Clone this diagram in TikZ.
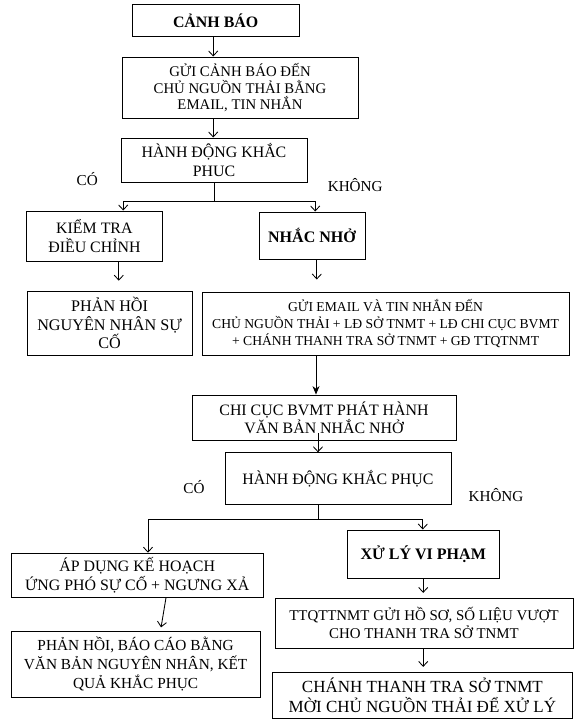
\documentclass[tikz,border=0pt]{standalone}
\usepackage{fontspec}
\setmainfont{Liberation Serif}
\usetikzlibrary{arrows.meta,positioning}
\newcommand{\fsz}[2]{\fontsize{#1}{#2}\selectfont}

\begin{document}
\begin{tikzpicture}[
  font=\fsz{11.3}{13},
  every node/.style={align=center},
  box/.style={draw, line width=0.7pt, inner sep=2pt},
  bbox/.style={box, font=\fsz{11.3}{13}\bfseries},
  lbl/.style={inner sep=0pt, font=\fsz{10.8}{12}},
  arr/.style={-{Straight Barb[length=3.5pt,width=6.5pt]}, line width=0.6pt},
  farr/.style={-{Stealth[length=6pt,width=5pt]}, line width=0.6pt}
]
\useasboundingbox (0,0) rectangle (14.375,-17.975);

%% First round
\node[bbox, minimum width=4.18cm, minimum height=0.78cm] (canh) at (5.39,-0.51) {CẢNH BÁO};
\node[box, font=\fsz{10.5}{12}, minimum width=5.9cm, minimum height=1.53cm] (gui) at (6.0,-2.19)
      {GỬI CẢNH BÁO ĐẾN\\ CHỦ NGUỒN THẢI BẰNG\\ EMAIL, TIN NHẮN};
\node[box, minimum width=4.65cm, minimum height=1.1cm] (hd1) at (5.35,-4.0) {HÀNH ĐỘNG KHẮC\\ PHUC};
\node[lbl] (co1)    at (2.18,-4.48) {CÓ};
\node[lbl] (khong1) at (8.88,-4.63) {KHÔNG};

%% Branches
\node[box, minimum width=3.38cm, minimum height=1.25cm] (kiem) at (2.36,-5.9) {KIỂM TRA\\ ĐIỀU CHỈNH};
\node[bbox, font=\fsz{11.4}{13}\bfseries, minimum width=2.65cm, minimum height=1.18cm] (nhac) at (7.8,-5.89) {NHẮC NHỞ};
\node[box, font=\fsz{11.5}{13.2}, minimum width=4.13cm, minimum height=1.6cm] (phan1) at (2.74,-8.08)
      {PHẢN HỒI\\ NGUYÊN NHÂN SỰ\\ CỐ};
\node[box, font=\fsz{9.7}{11.9}, minimum width=9.18cm, minimum height=1.58cm] (email) at (9.64,-8.09)
      {GỬI EMAIL VÀ TIN NHẮN ĐẾN\\ CHỦ NGUỒN THẢI + LĐ SỞ TNMT + LĐ CHI CỤC BVMT\\ + CHÁNH THANH TRA SỞ TNMT + GĐ TTQTNMT};

%% Second round
\node[box, minimum width=6.6cm, minimum height=1.13cm] (chicuc) at (8.1,-10.44)
      {CHI CỤC BVMT PHÁT HÀNH\\ VĂN BẢN NHẮC NHỞ};
\node[box, minimum width=5.65cm, minimum height=1.28cm] (hd2) at (8.45,-11.96) {HÀNH ĐỘNG KHẮC PHỤC};
\node[lbl] (co2)    at (4.85,-12.18) {CÓ};
\node[lbl] (khong2) at (12.4,-12.38) {KHÔNG};

\node[box, font=\fsz{11.3}{13.5}, minimum width=6.3cm, minimum height=1.1cm] (apdung) at (3.43,-14.38)
      {ÁP DỤNG KẾ HOẠCH\\ ỨNG PHÓ SỰ CỐ + NGƯNG XẢ};
\node[box, font=\fsz{10.9}{13.5}, minimum width=6.23cm, minimum height=1.63cm] (phan2) at (3.39,-16.61)
      {PHẢN HỒI, BÁO CÁO BẰNG\\ VĂN BẢN NGUYÊN NHÂN, KẾT\\ QUẢ KHẮC PHỤC};
\node[bbox, font=\fsz{11.4}{13}\bfseries, minimum width=3.8cm, minimum height=1.2cm] (xuly) at (10.58,-13.85) {XỬ LÝ VI PHẠM};
\node[box, font=\fsz{10.6}{13}, minimum width=7.45cm, minimum height=1.25cm] (ttq) at (10.6,-15.58)
      {TTQTTNMT GỬI HỒ SƠ, SỐ LIỆU VƯỢT\\ CHO THANH TRA SỞ TNMT};
\node[box, font=\fsz{12.1}{14.2}, minimum width=7.48cm, minimum height=1.15cm] (chanh) at (10.56,-17.38)
      {CHÁNH THANH TRA SỞ TNMT\\ MỜI CHỦ NGUỒN THẢI ĐỂ XỬ LÝ};

%% Connectors, first round
\draw[arr] ([xshift=-0.06cm]canh.south) -- ([xshift=-0.06cm]canh.south |- gui.north);
\draw[arr] ([xshift=-0.06cm]canh.south |- gui.south) -- ([xshift=-0.06cm]canh.south |- hd1.north);
\draw[arr] (hd1.south) -- ++(0,-0.48) -| ([xshift=0.72cm]kiem.north);
\draw[arr] (hd1.south) -- ++(0,-0.48) -| ([xshift=0.08cm]nhac.north);
\draw[arr, shorten >=0.25cm] ([xshift=0.61cm]kiem.south) -- ([xshift=0.61cm]kiem.south |- phan1.north);
\draw[arr, shorten >=0.3cm] ([xshift=0.12cm]nhac.south) -- ([xshift=0.12cm]nhac.south |- email.north);

%% Connectors, second round
\draw[farr] ([xshift=-0.2cm]email.south -| chicuc) -- ([xshift=-0.2cm]chicuc.north);
\draw[arr] ([xshift=-0.15cm,yshift=0.18cm]chicuc.south) -- ([xshift=-0.15cm]chicuc.south |- hd2.north);
\draw[arr] ([xshift=-0.5cm]hd2.south) -- ++(0,-0.38) -| ([xshift=0.27cm]apdung.north);
\draw[arr] ([xshift=-0.5cm]hd2.south) -- ++(0,-0.38) -| ([xshift=-0.01cm]xuly.north);
\draw[arr, shorten >=0.1cm] ([xshift=0.72cm]apdung.south) -- ([xshift=0.62cm]phan2.north);
\draw[arr, shorten >=0.12cm] (xuly.south) -- (xuly.south |- ttq.north);
\draw[arr, shorten >=0.12cm] (xuly.south |- ttq.south) -- (xuly.south |- chanh.north);

\end{tikzpicture}
\end{document}
